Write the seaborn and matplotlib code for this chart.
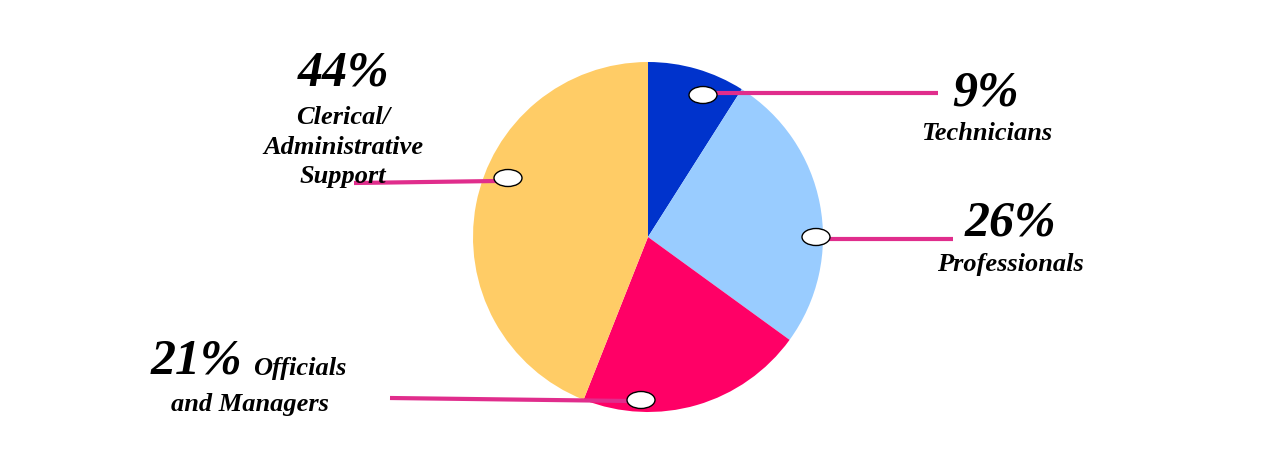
import matplotlib
matplotlib.use("Agg")
import matplotlib.pyplot as plt
from matplotlib.patches import Ellipse
import seaborn as sns

# Workforce composition by job category
categories = ["Technicians", "Professionals", "Officials and Managers", "Clerical/Administrative Support"]
shares = [9, 26, 21, 44]
colors = ["#0033CC", "#99CCFF", "#FF0066", "#FFCC66"]

sns.set_theme(style="white")
plt.rcParams["font.family"] = ["Liberation Serif", "DejaVu Serif"]

W, H = 1288, 467
fig = plt.figure(figsize=(W / 100, H / 100), dpi=100)
ax = fig.add_axes([0, 0, 1, 1])


def Y(y):
    # convert a top-down pixel row to the bottom-up axis coordinate
    return H - y


ax.pie(shares, colors=colors, startangle=90, counterclock=False,
       center=(648, Y(237)), radius=175,
       wedgeprops=dict(linewidth=0))
ax.set_xlim(0, W)
ax.set_ylim(0, H)
ax.set_aspect("equal")
ax.axis("off")

line_col = "#E02D8C"
big = dict(fontsize=36, fontweight="bold", fontstyle="italic", color="black")
small = dict(fontsize=19, fontweight="bold", fontstyle="italic", color="black")

# leader lines: (x0, y0, x1, y1), marker ellipse centre
leaders = [
    ((712, 93, 938, 93), (703, 95)),
    ((822, 239, 953, 239), (816, 237)),
    ((390, 398, 630, 401), (641, 400)),
    ((354, 183, 497, 181), (508, 178)),
]
for (x0, y0, x1, y1), (ex, ey) in leaders:
    ax.plot([x0, x1], [Y(y0), Y(y1)], color=line_col, lw=3, solid_capstyle="butt", zorder=3)
    ax.add_patch(Ellipse((ex, Y(ey)), 28, 17, facecolor="white", edgecolor="black",
                         lw=1, zorder=4))

pct = {c: f"{s}%" for c, s in zip(categories, shares)}

# Technicians
ax.text(986, Y(93), pct["Technicians"], ha="center", va="center", **big)
ax.text(987, Y(133), "Technicians", ha="center", va="center", **small)
# Professionals
ax.text(1010, Y(224), pct["Professionals"], ha="center", va="center", **big)
ax.text(1010, Y(265), "Professionals", ha="center", va="center", **small)
# Officials and Managers
ax.text(196, Y(362), pct["Officials and Managers"], ha="center", va="center", **big)
ax.text(300, Y(368), "Officials", ha="center", va="center", **small)
ax.text(250, Y(405), "and Managers", ha="center", va="center", **small)
# Clerical / Administrative Support
ax.text(344, Y(73), pct["Clerical/Administrative Support"], ha="center", va="center", **big)
ax.text(343, Y(117), "Clerical/", ha="center", va="center", **small)
ax.text(343, Y(147), "Administrative", ha="center", va="center", **small)
ax.text(343, Y(176), "Support", ha="center", va="center", **small)

fig.savefig("out.png", dpi=100, facecolor="white")
